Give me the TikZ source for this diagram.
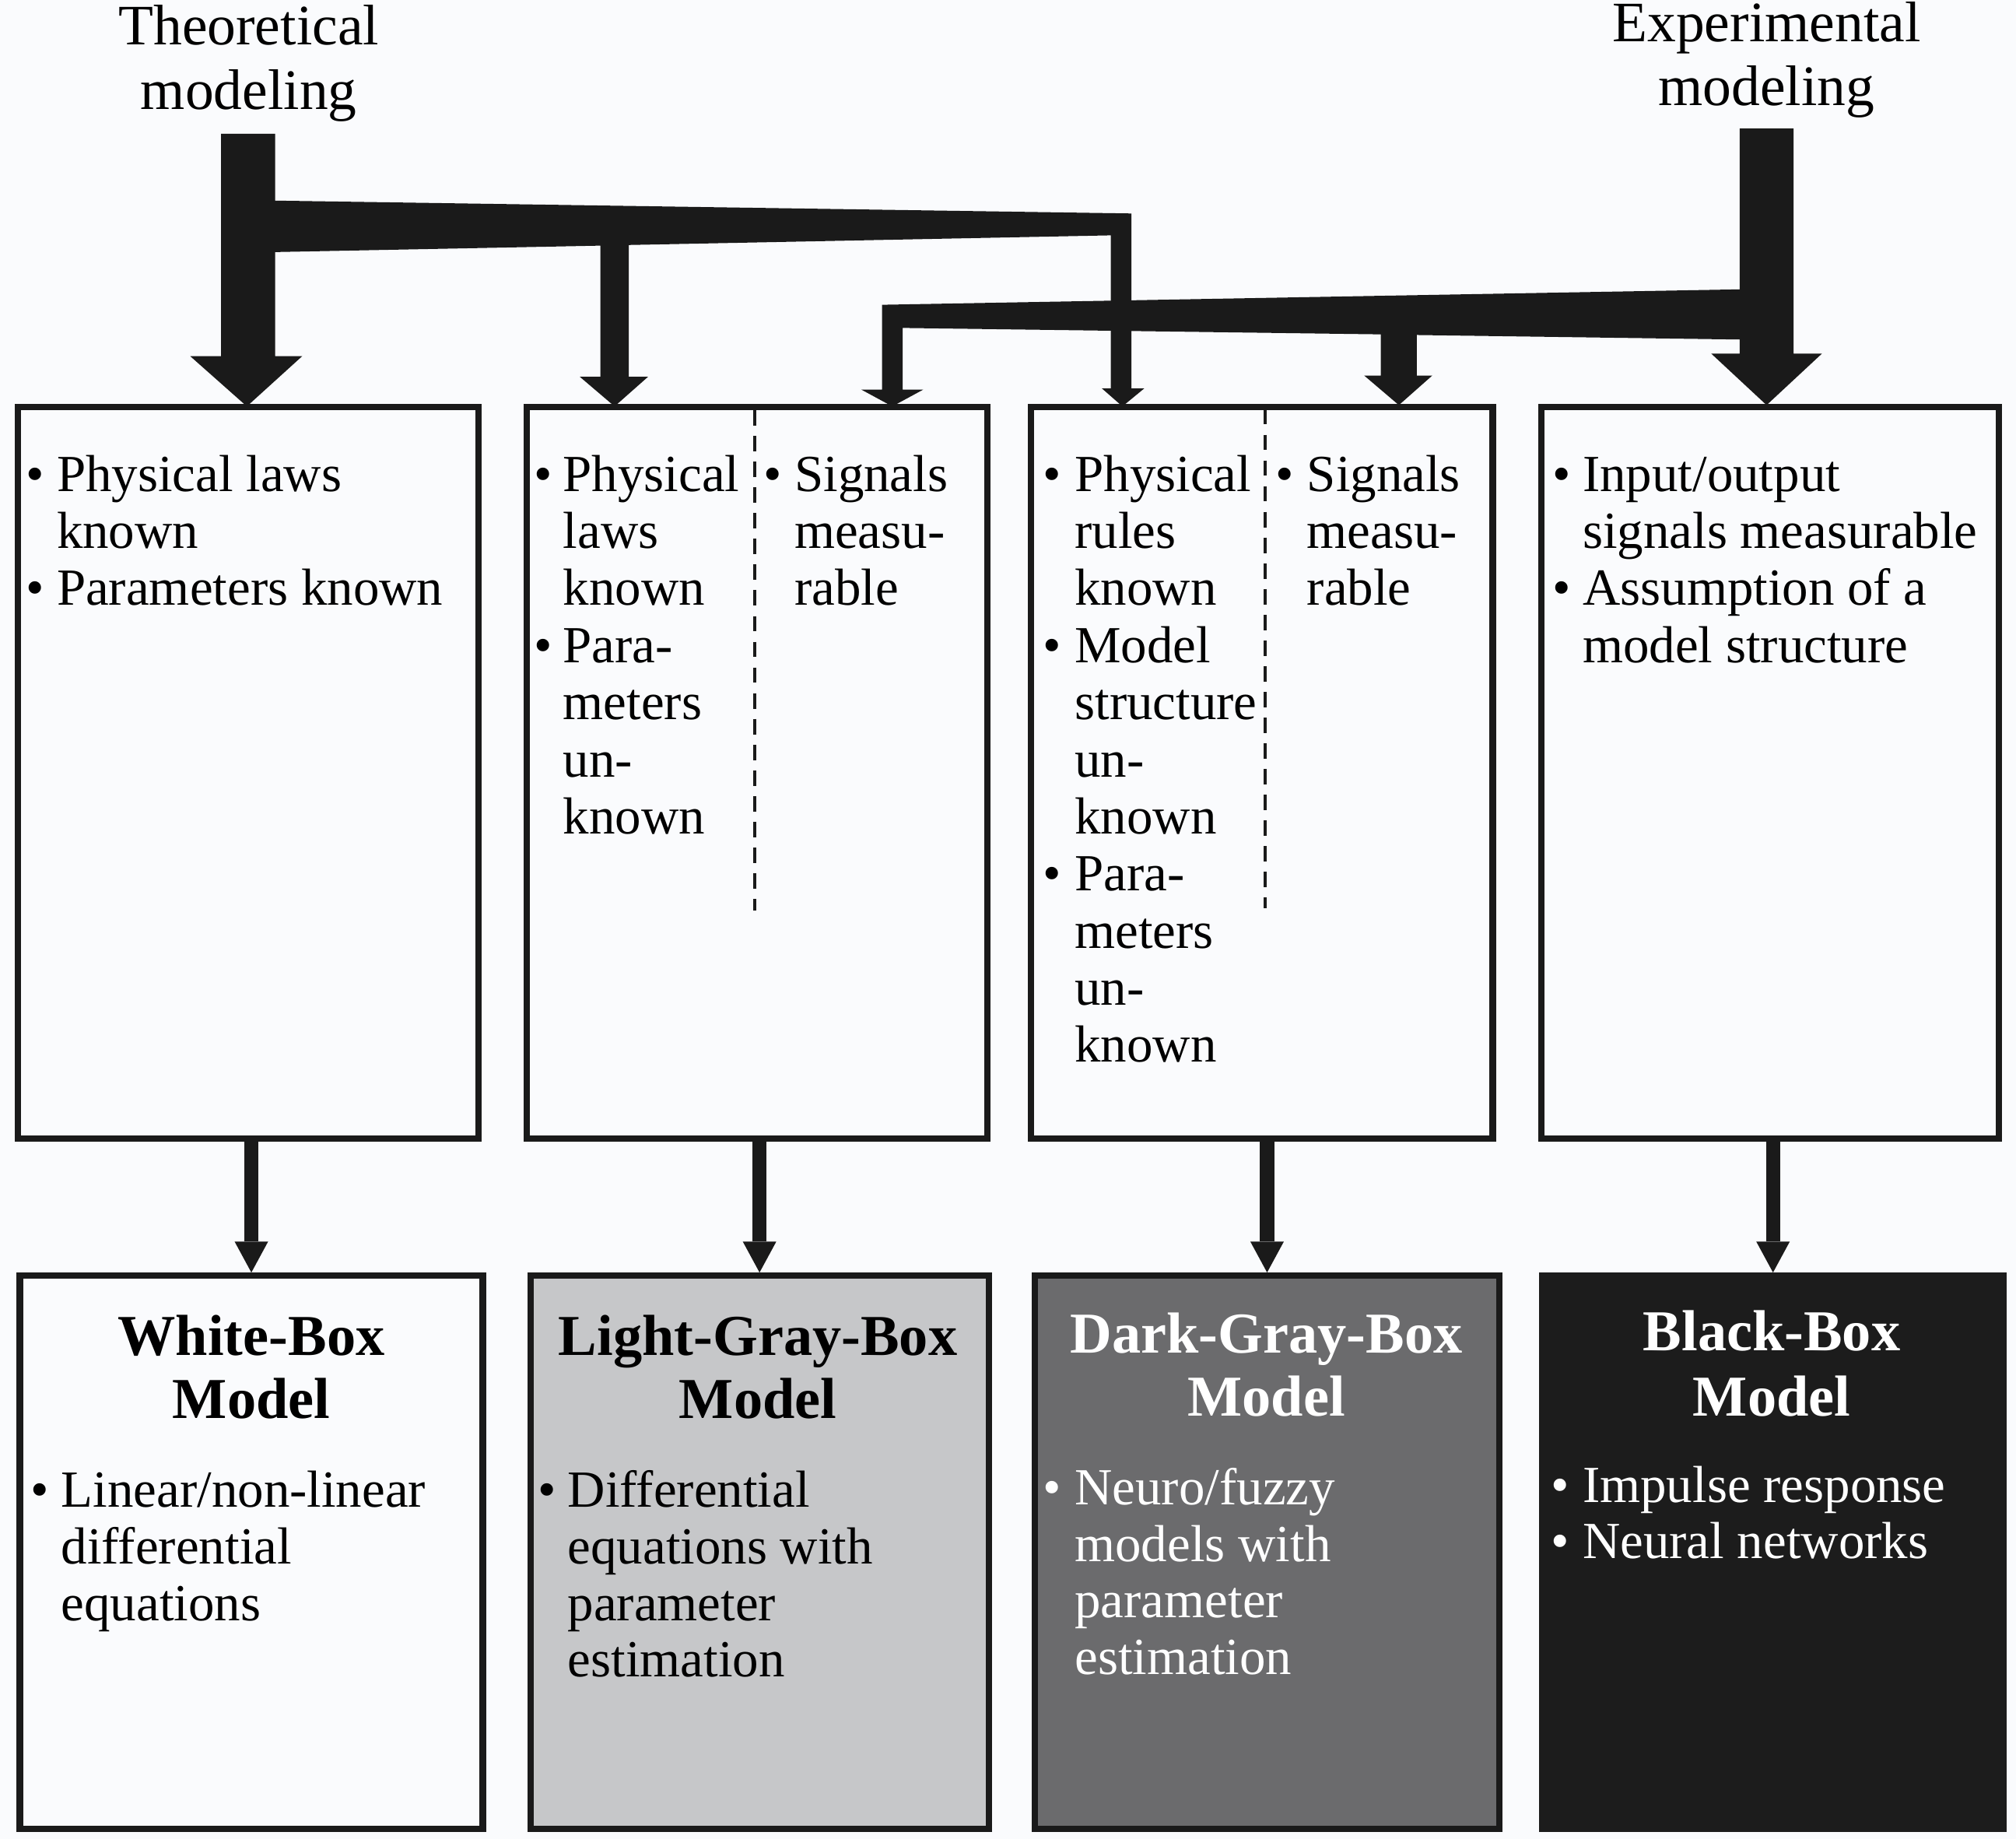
\documentclass[tikz,border=0pt]{standalone}
\usepackage{fontspec}
\setmainfont{Liberation Serif}
\usetikzlibrary{arrows.meta}
\definecolor{ink}{HTML}{1A1A1A}
\definecolor{paper}{HTML}{FAFBFD}
\definecolor{lgray}{HTML}{C6C7C9}
\definecolor{dgray}{HTML}{6B6B6D}
\definecolor{blk}{HTML}{1C1C1C}
\newcommand\tlines[5]{%
  \foreach \t [count=\i from 0] in {#5}{\node[txt] (#1\i) at (#2,{#3+#4*\i}) {\t};}}
\begin{document}
\begin{tikzpicture}[x=1pt,y=-1pt,
  txt/.style={anchor=base west,inner sep=0pt,outer sep=0pt,font=\fontsize{40.5}{44}\selectfont},
  bul/.style={anchor=base,inner sep=0pt,outer sep=0pt,font=\fontsize{40.5}{44}\selectfont},
  ttl/.style={anchor=base,inner sep=0pt,outer sep=0pt,font=\fontsize{45}{50}\selectfont\bfseries},
  head/.style={anchor=base,inner sep=0pt,outer sep=0pt,font=\fontsize{44.5}{48}\selectfont},
  box/.style={draw=ink,line width=5pt,rectangle,inner sep=0pt},
  topbox/.style={box,minimum height=569pt},
  botbox/.style={box,minimum height=430pt},
  conn/.style={draw=ink,line width=11pt,-{Triangle[length=24pt,width=26pt,line width=0pt]}},
  dashline/.style={draw=ink,line width=3pt,dash pattern=on 12pt off 8pt},
  bigarrow/.style={fill=ink,draw=none}
]
\useasboundingbox (0,0) rectangle (1568,1430);
\fill[paper] (0,0) rectangle (1568,1430);

% headings
\node[head] (th0) at (193.5,35) {Theoretical};
\node[head] (th1) at (193.5,85) {modeling};
\node[head] (eh0) at (1374,32.5) {Experimental};
\node[head] (eh1) at (1374,82) {modeling};

% top boxes
\node[topbox,minimum width=358pt] (t1) at (193,601) {};
\node[topbox,minimum width=358.5pt] (t2) at (588.75,601) {};
\node[topbox,minimum width=359pt] (t3) at (981.5,601) {};
\node[topbox,minimum width=355.5pt] (t4) at (1376.75,601) {};

% bottom boxes
\node[botbox,minimum width=360pt] (b1) at (195.5,1207) {};
\node[botbox,minimum width=356.5pt,fill=lgray] (b2) at (590.75,1207) {};
\node[botbox,minimum width=361pt,fill=dgray] (b3) at (985.5,1207) {};
\node[botbox,minimum width=359pt,fill=blk,draw=blk] (b4) at (1379,1207) {};

% dashed separators
\draw[dashline] (587,319) -- (587,708);
\draw[dashline] (984,318) -- (984,706);

% big arrows: theoretical modeling
\path[bigarrow] (172,104) -- (214,104) -- (214,156) -- (880,166) -- (880,302) -- (890,302) -- (873,316)
  -- (857,302) -- (864,302) -- (864,183) -- (489,190.5) -- (489,293) -- (504,293) -- (478,316)
  -- (451,293) -- (467,293) -- (467,191) -- (214,196) -- (214,277) -- (235,277) -- (192,316)
  -- (148,277) -- (172,277) -- cycle;
% big arrows: experimental modeling
\path[bigarrow] (1353,100) -- (1395,100) -- (1395,275) -- (1417,275) -- (1374,315) -- (1331,275)
  -- (1353,275) -- (1353,264) -- (1102,260.5) -- (1102,292) -- (1114,292) -- (1088,315)
  -- (1061,292) -- (1074,292) -- (1074,260) -- (702,255) -- (702,303) -- (718,303) -- (694,316)
  -- (670,303) -- (686,303) -- (686,237) -- (1353,225) -- cycle;

% connectors top -> bottom
\draw[conn] (b1.north |- t1.south) -- (b1.north);
\draw[conn] (b2.north |- t2.south) -- (b2.north);
\draw[conn] (b3.north |- t3.south) -- (b3.north);
\draw[conn] (b4.north |- t4.south) -- (b4.north);

% texts top box 1
\node[bul] (t1b0) at (27.6,382) {\textbullet};
\node[bul] (t1b1) at (27.6,470.8) {\textbullet};
\tlines{t1l}{44.2}{382}{44.4}{Physical laws,known,Parameters known}

% top box 2
\node[bul] (t2b0) at (422.6,382) {\textbullet};
\node[bul] (t2b1) at (422.6,515.2) {\textbullet};
\tlines{t2l}{438}{382}{44.4}{Physical,laws,known,Para-,meters,un-,known}
\node[bul] (t2b2) at (600.8,382) {\textbullet};
\tlines{t2r}{618}{382}{44.4}{Signals,measu-,rable}

% top box 3
\node[bul] (t3b0) at (818.4,382) {\textbullet};
\node[bul] (t3b1) at (818.4,515.2) {\textbullet};
\node[bul] (t3b2) at (818.4,692.8) {\textbullet};
\tlines{t3l}{836}{382}{44.4}{Physical,rules,known,Model,structure,un-,known,Para-,meters,un-,known}
\node[bul] (t3b3) at (999,382) {\textbullet};
\tlines{t3r}{1016.6}{382}{44.4}{Signals,measu-,rable}

% top box 4
\node[bul] (t4b0) at (1214.7,382) {\textbullet};
\node[bul] (t4b1) at (1214.7,470.8) {\textbullet};
\tlines{t4l}{1231}{382}{44.4}{Input/output,signals measurable,Assumption of a,model structure}

% bottom box 1
\node[ttl] (b1h0) at (195.5,1054) {White-Box};
\node[ttl] (b1h1) at (195.5,1103) {Model};
\node[bul] (b1b0) at (31,1172) {\textbullet};
\tlines{b1l}{47.7}{1172}{44}{Linear/non-linear,differential,equations}

% bottom box 2
\node[ttl] (b2h0) at (589.5,1054) {Light-Gray-Box};
\node[ttl] (b2h1) at (589.5,1103) {Model};
\node[bul] (b2b0) at (425.6,1172) {\textbullet};
\tlines{b2l}{441.6}{1172}{44}{Differential,equations with,parameter,estimation}

% bottom box 3
\begin{scope}[txt/.append style={text=white},bul/.append style={text=white},ttl/.append style={text=white}]
\node[ttl] (b3h0) at (985,1052) {Dark-Gray-Box};
\node[ttl] (b3h1) at (985,1101) {Model};
\node[bul] (b3b0) at (818.4,1170) {\textbullet};
\tlines{b3l}{836}{1170}{44}{Neuro/fuzzy,models with,parameter,estimation}

% bottom box 4
\node[ttl] (b4h0) at (1378,1050) {Black-Box};
\node[ttl] (b4h1) at (1378,1101) {Model};
\node[bul] (b4b0) at (1213.5,1168) {\textbullet};
\node[bul] (b4b1) at (1213.5,1212) {\textbullet};
\tlines{b4l}{1231}{1168}{44}{Impulse response,Neural networks}
\end{scope}
\end{tikzpicture}
\end{document}
